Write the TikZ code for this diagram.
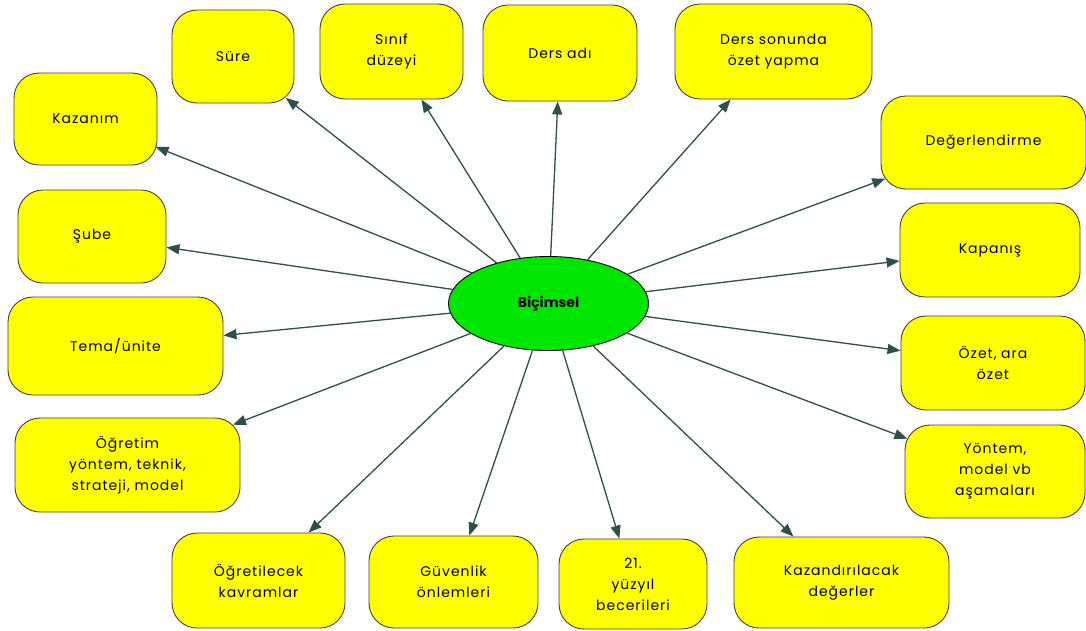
\documentclass[tikz,border=0pt]{standalone}
\usepackage{fontspec}
\setmainfont{Poppins}
\newfontfamily\topicfont[LetterSpace=7]{Poppins}
\usetikzlibrary{arrows.meta,shapes.geometric}
\definecolor{boxfill}{RGB}{255,255,0}
\definecolor{hubfill}{RGB}{0,230,0}
\definecolor{linkcol}{RGB}{47,79,79}
\begin{document}
\begin{tikzpicture}[x=1pt,y=-1pt,
  topic/.style={draw=black!85!yellow, line width=0.9pt, fill=boxfill,
    rounded corners=25pt, inner sep=0pt, align=center,
    font=\topicfont\fontsize{14}{21}\selectfont},
  sz/.style 2 args={minimum width=#1pt, minimum height=#2pt},
  hub/.style={ellipse, draw, fill=hubfill, line width=0.9pt,
    minimum width=200pt, minimum height=94pt, inner sep=0pt,
    font=\bfseries\fontsize{14}{16}\selectfont},
  link/.style={draw=linkcol, line width=1.3pt,
    -{Triangle[length=13pt,width=10pt]}}]
\useasboundingbox (0,0) rectangle (1086,630);
\fill[white] (0,0) rectangle (1086,630);

% central topic
\node[hub] (c) at (548.5,303.5) {Biçimsel};

% top row
\node[topic, sz={122}{93}] (sure)   at (233,56.5)   {Süre};
\node[topic, sz={143}{95}] (sinif)  at (391.5,51.5) {Sınıf\\düzeyi};
\node[topic, sz={154}{96}] (ad)     at (560,53)     {Ders adı};
\node[topic, sz={197}{95}] (ozetyap) at (773.5,51.5) {Ders sonunda\\özet yapma};

% left column
\node[topic, sz={143}{92}]  (kazanim) at (85.5,119)  {Kazanım};
\node[topic, sz={148}{93}]  (sube)    at (92,236.5)  {Şube};
\node[topic, sz={215}{98}]  (tema)    at (115.5,346) {Tema/ünite};
\node[topic, sz={225}{94}]  (ogretim) at (127.5,465) {Öğretim\\yöntem, teknik,\\strateji, model};

% right column
\node[topic, sz={205}{93}] (degerl)  at (983.5,142.5) {Değerlendirme};
\node[topic, sz={180}{94}] (kapanis) at (990,250)     {Kapanış};
\node[topic, sz={184}{94}] (araozet) at (993,363)     {Özet, ara\\özet};
\node[topic, sz={180}{93}] (yontem)  at (995,471.5)   {Yöntem,\\model vb\\aşamaları};

% bottom row
\node[topic, sz={173}{95}] (kavram)   at (258.5,580.5) {Öğretilecek\\kavramlar};
\node[topic, sz={169}{92}] (guvenlik) at (453.5,582)   {Güvenlik\\önlemleri};
\node[topic, sz={148}{90}] (beceri)   at (633,584)     {21.\\yüzyıl\\becerileri};
\node[topic, sz={215}{91}] (degerler) at (841.5,582.5) {Kazandırılacak\\değerler};

% connectors from the centre to every topic
\draw[link, shorten >=-9pt] (c) -- (sure);
\draw[link] (c) -- (sinif);
\draw[link] (c) -- (ad);
\draw[link] (c) -- (ozetyap);
\draw[link, shorten >=-2pt] (c) -- (kazanim);
\draw[link] (c) -- (sube);
\draw[link] (c) -- (tema);
\draw[link, shorten >=-8pt] (c) -- (ogretim);
\draw[link, shorten >=-5pt] (c) -- (degerl);
\draw[link] (c) -- (kapanis);
\draw[link] (c) -- (araozet);
\draw[link, shorten >=-3pt] (c) -- (yontem);
\draw[link] (c) -- (kavram);
\draw[link] (c) -- (guvenlik);
\draw[link] (c) -- (beceri);
\draw[link] (c) -- (degerler);
\end{tikzpicture}
\end{document}
